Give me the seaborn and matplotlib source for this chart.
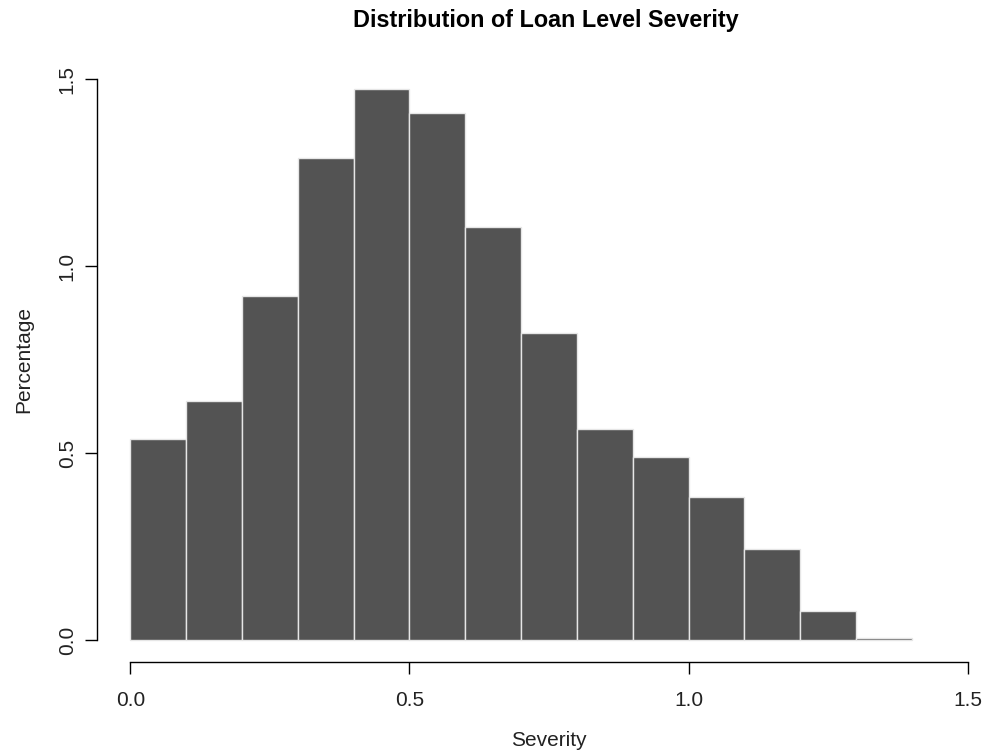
import numpy as np
import pandas as pd
import matplotlib
matplotlib.use("Agg")
import matplotlib.pyplot as plt
import seaborn as sns

# Histogram bins (severity) and density heights per bin
bin_edges = [0.0, 0.1, 0.2, 0.3, 0.4, 0.5, 0.6, 0.7, 0.8, 0.9, 1.0, 1.1, 1.2, 1.3, 1.4]
density = [0.537, 0.639, 0.920, 1.289, 1.473, 1.409, 1.104, 0.821,
           0.564, 0.489, 0.382, 0.243, 0.078, 0.004]
x_ticks = [0.0, 0.5, 1.0, 1.5]
y_ticks = [0.0, 0.5, 1.0, 1.5]

edges = np.array(bin_edges)
df = pd.DataFrame({
    "severity": (edges[:-1] + edges[1:]) / 2,
    "weight": density,
})

sns.set_style("white")
plt.rcParams["font.family"] = ["Liberation Sans", "DejaVu Sans"]

W, H = 986, 753
fig = plt.figure(figsize=(W / 100, H / 100), dpi=100)
left, right, top, bottom = 97, 1001, 56.6, 662.4
ax = fig.add_axes([left / W, 1 - bottom / H, (right - left) / W, (bottom - top) / H])

sns.histplot(data=df, x="severity", weights="weight", bins=bin_edges,
             stat="count", color="#535353", edgecolor="#e6e6e6", linewidth=1.0,
             alpha=1.0, ax=ax)

ax.set_xlim(-0.06, 1.56)
ax.set_ylim(-0.06, 1.56)

for side in ["top", "right"]:
    ax.spines[side].set_visible(False)
for side in ["left", "bottom"]:
    ax.spines[side].set_color("black")
    ax.spines[side].set_linewidth(1.0)
ax.spines["left"].set_bounds(0, 1.5)
ax.spines["bottom"].set_bounds(0, 1.5)

ax.set_xticks(x_ticks)
ax.set_xticklabels([f"{v:.1f}" for v in x_ticks])
ax.set_yticks(y_ticks)
ax.set_yticklabels([f"{v:.1f}" for v in y_ticks], rotation=90, va="center")
ax.tick_params(axis="both", direction="out", length=8.5, width=1.0, color="black",
               labelsize=15, labelcolor="#222222", left=True, bottom=True)
ax.tick_params(axis="x", pad=12)
ax.tick_params(axis="y", pad=6)

ax.set_xlabel("Severity", fontsize=15, color="#222222", labelpad=15)
ax.set_ylabel("Percentage", fontsize=15, color="#222222", labelpad=18)
fig.text(546 / W, 1 - 20 / H,
         "Distribution of Loan Level Severity",
         ha="center", va="center", fontsize=16.8, fontweight="bold", color="black")
ax.grid(False)

fig.savefig("out.png", dpi=100)
